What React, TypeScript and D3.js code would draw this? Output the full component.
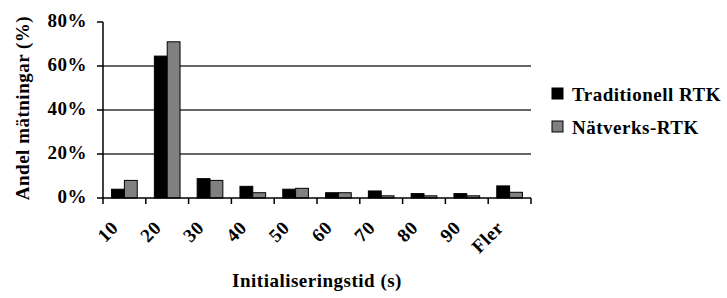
import * as d3 from "d3";
import React from "react";

const WIDTH = 727;
const HEIGHT = 298;
const MARGIN = { top: 22, right: 196, bottom: 100, left: 103 };

const categories = ["10", "20", "30", "40", "50", "60", "70", "80", "90", "Fler"];
const seriesNames = ["Traditionell RTK", "Nätverks-RTK"];
const traditionell = [4, 64.5, 8.8, 5.3, 4, 2.4, 3.2, 2, 2, 5.5];
const natverks = [8, 71, 8, 2.4, 4.4, 2.4, 1, 1, 1, 2.6];
const yTicks = [0, 20, 40, 60, 80];
const gridTicks = [20, 40, 60];
const colors = ["#000000", "#808080"];

const FONT = "'Liberation Serif', 'Times New Roman', serif";
const FS = 19;

const App: React.FC = () => {
    const boundsWidth = WIDTH - MARGIN.left - MARGIN.right;
    const boundsHeight = HEIGHT - MARGIN.top - MARGIN.bottom;

    // outer scale = the category slots (ticks sit on their edges)
    const xSlot = d3.scaleBand<string>().domain(categories).range([0, boundsWidth]).padding(0);
    const xBand = d3
        .scaleBand<string>()
        .domain(categories)
        .range([0, boundsWidth])
        .paddingInner(0.4)
        .paddingOuter(0.2);
    const xSub = d3.scaleBand<number>().domain([0, 1]).range([0, xBand.bandwidth()]);
    const yScale = d3.scaleLinear().domain([0, 80]).range([boundsHeight, 0]);

    const series = [traditionell, natverks];
    const step = xSlot.step();

    return (
        <svg width={WIDTH} height={HEIGHT} style={{ position: "absolute", left: 0, top: 0 }}>
            <rect width={WIDTH} height={HEIGHT} fill="#fff" />
            <g transform={`translate(${MARGIN.left},${MARGIN.top})`} fontFamily={FONT} fontWeight="bold">
                {gridTicks.map((t) => (
                    <line key={t} x1={0} x2={boundsWidth} y1={yScale(t)} y2={yScale(t)} stroke="#333" strokeWidth={1.5} />
                ))}
                {categories.map((c, i) =>
                    series.map((s, j) => (
                        <rect
                            key={c + j}
                            x={(xBand(c) || 0) + (xSub(j) || 0)}
                            y={yScale(s[i])}
                            width={xSub.bandwidth()}
                            height={boundsHeight - yScale(s[i])}
                            fill={colors[j]}
                            stroke="#000"
                            strokeWidth={1}
                        />
                    ))
                )}
                {/* y axis */}
                <line x1={0} x2={0} y1={0} y2={boundsHeight} stroke="#000" strokeWidth={1.5} />
                {yTicks.map((t) => (
                    <g key={t}>
                        <line x1={-6} x2={0} y1={yScale(t)} y2={yScale(t)} stroke="#000" strokeWidth={1.5} />
                        <text x={-16} y={yScale(t) + 5} textAnchor="end" fontSize={FS} letterSpacing={0.5}>
                            {t}%
                        </text>
                    </g>
                ))}
                {/* x axis */}
                <line x1={0} x2={boundsWidth} y1={boundsHeight} y2={boundsHeight} stroke="#000" strokeWidth={1.5} />
                {d3.range(categories.length + 1).map((i) => (
                    <line
                        key={i}
                        x1={i * step}
                        x2={i * step}
                        y1={boundsHeight}
                        y2={boundsHeight + 6}
                        stroke="#000"
                        strokeWidth={1.5}
                    />
                ))}
                {categories.map((c) => (
                    <text
                        key={c}
                        textAnchor="end"
                        fontSize={FS}
                        letterSpacing={0.5}
                        transform={`translate(${(xSlot(c) || 0) + step / 2 - 5},${boundsHeight + 31}) rotate(-45)`}
                    >
                        {c}
                    </text>
                ))}
                <text x={boundsWidth / 2} y={boundsHeight + 89} textAnchor="middle" fontSize={FS} letterSpacing={0.5}>
                    Initialiseringstid (s)
                </text>
                <text
                    transform={`translate(${-74},${boundsHeight / 2 - 2}) rotate(-90)`}
                    textAnchor="middle"
                    fontSize={FS}
                    letterSpacing={0.5}
                >
                    Andel mätningar (%)
                </text>
            </g>
            {/* legend */}
            <g fontFamily={FONT} fontWeight="bold" fontSize={FS} letterSpacing={0.5}>
                {seriesNames.map((n, j) => (
                    <g key={n} transform={`translate(552,${88 + j * 33})`}>
                        <rect width={11} height={11} fill={colors[j]} stroke="#000" strokeWidth={1} />
                        <text x={20} y={12.5}>
                            {n}
                        </text>
                    </g>
                ))}
            </g>
        </svg>
    );
};

export default App;
